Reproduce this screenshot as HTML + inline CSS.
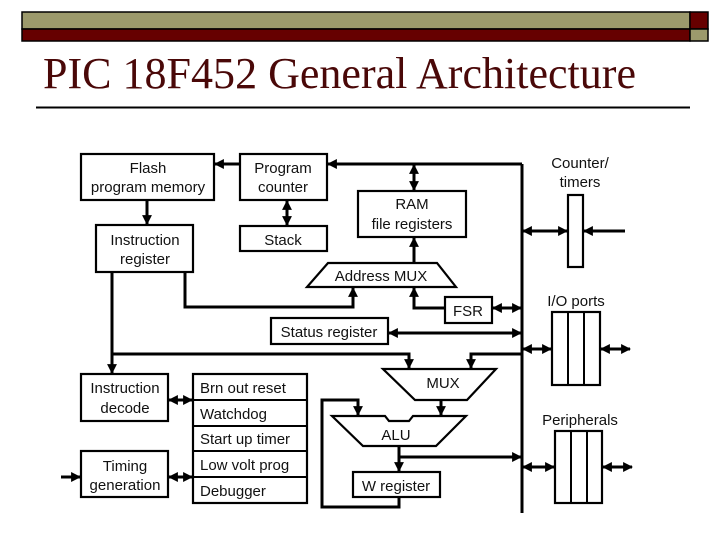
<!DOCTYPE html>
<html><head><meta charset="utf-8"><style>
html,body{margin:0;padding:0;background:#fff;}
svg{display:block;}
text{font-family:"Liberation Sans",Arial,sans-serif;font-size:15px;fill:#111;}
</style></head><body>
<svg width="720" height="540" viewBox="0 0 720 540" xmlns="http://www.w3.org/2000/svg">
<defs>
<marker id="a" viewBox="0 0 10 10" refX="9" refY="5" markerWidth="3.3" markerHeight="3.3" orient="auto-start-reverse" markerUnits="strokeWidth">
<path d="M0,0 L10,5 L0,10 z" fill="#000"/></marker>
</defs>
<!-- header -->
<rect x="22" y="12" width="668" height="17" fill="#9c9a6c" stroke="#000" stroke-width="1.5"/>
<rect x="22" y="29" width="668" height="12" fill="#660000" stroke="#000" stroke-width="1.5"/>
<rect x="690" y="12" width="18" height="17" fill="#660000" stroke="#000" stroke-width="1.5"/>
<rect x="690" y="29" width="18" height="12" fill="#9c9a6c" stroke="#000" stroke-width="1.5"/>
<text x="43" y="88" style="font-family:'Liberation Serif',serif;font-size:44px;fill:#4a0808" textLength="593" lengthAdjust="spacingAndGlyphs">PIC 18F452 General Architecture</text>
<line x1="36" y1="107.5" x2="690" y2="107.5" stroke="#000" stroke-width="2"/>

<g fill="#fff" stroke="#000" stroke-width="2.2">
<rect x="81" y="154" width="133" height="46"/>
<rect x="240" y="154" width="87" height="46"/>
<rect x="240" y="226" width="87" height="25"/>
<rect x="358" y="191" width="108" height="46"/>
<rect x="96" y="225" width="97" height="47"/>
<polygon points="328,263 437,263 456,287 307,287"/>
<rect x="445" y="297" width="47" height="26"/>
<rect x="271" y="318" width="117" height="26"/>
<rect x="81" y="374" width="87" height="47"/>
<rect x="81" y="451" width="87" height="46"/>
<rect x="193" y="374" width="114" height="129"/>
<polygon points="383,369 496,369 467,400 415,400"/>
<polygon points="332,416 385,416 389,421 409,421 413,416 466,416 436,446 363,446"/>
<rect x="353" y="472" width="87" height="25"/>
<rect x="568" y="195" width="15" height="72"/>
<rect x="552" y="312" width="48" height="73"/>
<rect x="555" y="431" width="47" height="72"/>
</g>
<g stroke="#000" stroke-width="2">
<line x1="193" y1="400" x2="307" y2="400"/>
<line x1="193" y1="426" x2="307" y2="426"/>
<line x1="193" y1="451" x2="307" y2="451"/>
<line x1="193" y1="477" x2="307" y2="477"/>
<line x1="568" y1="312" x2="568" y2="385"/>
<line x1="584" y1="312" x2="584" y2="385"/>
<line x1="571" y1="431" x2="571" y2="503"/>
<line x1="587" y1="431" x2="587" y2="503"/>
</g>

<g fill="none" stroke="#000" stroke-width="3">
<line x1="522" y1="164" x2="522" y2="513"/>
<polyline points="522,164 328,164" marker-end="url(#a)"/>
<line x1="240" y1="164" x2="215" y2="164" marker-end="url(#a)"/>
<line x1="287" y1="201" x2="287" y2="225" marker-start="url(#a)" marker-end="url(#a)"/>
<line x1="414" y1="165" x2="414" y2="190" marker-start="url(#a)" marker-end="url(#a)"/>
<line x1="147" y1="200" x2="147" y2="224" marker-end="url(#a)"/>
<line x1="414" y1="263" x2="414" y2="238" marker-end="url(#a)"/>
<polyline points="185,272 185,307 353,307 353,288" marker-end="url(#a)"/>
<polyline points="445,308 414,308 414,288" marker-end="url(#a)"/>
<line x1="493" y1="308" x2="521" y2="308" marker-start="url(#a)" marker-end="url(#a)"/>
<line x1="389" y1="333" x2="521" y2="333" marker-start="url(#a)" marker-end="url(#a)"/>
<polyline points="112,272 112,373" marker-end="url(#a)"/>
<polyline points="112,354 409,354 409,368" marker-end="url(#a)"/>
<polyline points="522,354 471,354 471,368" marker-end="url(#a)"/>
<line x1="441" y1="400" x2="441" y2="415" marker-end="url(#a)"/>
<line x1="399" y1="446" x2="399" y2="471" marker-end="url(#a)"/>
<line x1="399" y1="457" x2="521" y2="457" marker-end="url(#a)"/>
<polyline points="399,497 399,507 322,507 322,400 358,400 358,415" marker-end="url(#a)"/>
<line x1="169" y1="400" x2="192" y2="400" marker-start="url(#a)" marker-end="url(#a)"/>
<line x1="169" y1="477" x2="192" y2="477" marker-start="url(#a)" marker-end="url(#a)"/>
<line x1="61" y1="477" x2="80" y2="477" marker-end="url(#a)"/>
<line x1="523" y1="231" x2="567" y2="231" marker-start="url(#a)" marker-end="url(#a)"/>
<line x1="625" y1="231" x2="584" y2="231" marker-end="url(#a)"/>
<line x1="523" y1="349" x2="551" y2="349" marker-start="url(#a)" marker-end="url(#a)"/>
<line x1="601" y1="349" x2="630" y2="349" marker-start="url(#a)" marker-end="url(#a)"/>
<line x1="523" y1="467" x2="554" y2="467" marker-start="url(#a)" marker-end="url(#a)"/>
<line x1="603" y1="467" x2="632" y2="467" marker-start="url(#a)" marker-end="url(#a)"/>
</g>

<g text-anchor="middle">
<text x="148" y="173">Flash</text>
<text x="148" y="192">program memory</text>
<text x="283" y="173">Program</text>
<text x="283" y="192">counter</text>
<text x="283" y="245">Stack</text>
<text x="412" y="209">RAM</text>
<text x="412" y="229">file registers</text>
<text x="145" y="245">Instruction</text>
<text x="145" y="264">register</text>
<text x="381" y="281">Address MUX</text>
<text x="468" y="316">FSR</text>
<text x="329" y="337">Status register</text>
<text x="125" y="393">Instruction</text>
<text x="125" y="413">decode</text>
<text x="125" y="471">Timing</text>
<text x="125" y="490">generation</text>
<text x="443" y="388">MUX</text>
<text x="396" y="440">ALU</text>
<text x="396" y="491">W register</text>
<text x="580" y="168">Counter/</text>
<text x="580" y="187">timers</text>
<text x="576" y="306">I/O ports</text>
<text x="580" y="425">Peripherals</text>
</g>
<g>
<text x="200" y="393">Brn out reset</text>
<text x="200" y="419">Watchdog</text>
<text x="200" y="444">Start up timer</text>
<text x="200" y="470">Low volt prog</text>
<text x="200" y="496">Debugger</text>
</g>
</svg>
</body></html>
